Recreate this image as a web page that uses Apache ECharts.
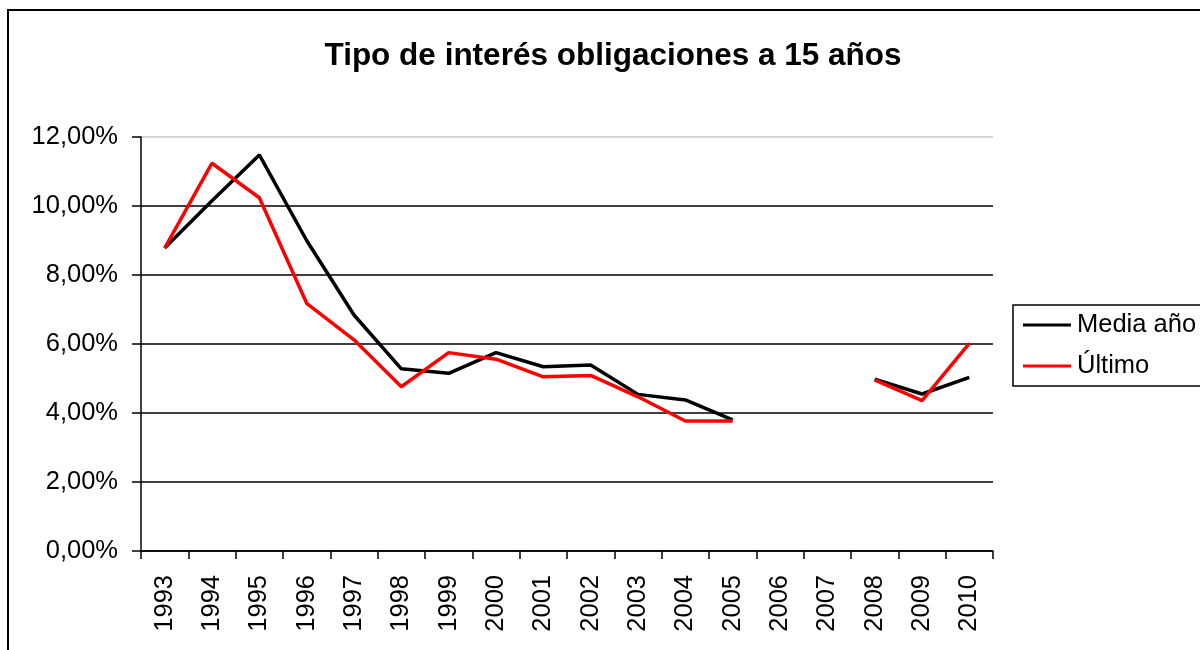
<!DOCTYPE html>
<html>
<head>
<meta charset="utf-8">
<script src="https://cdn.jsdelivr.net/npm/echarts@6/dist/echarts.min.js"></script>
<style>
    html, body { margin: 0; padding: 0; background: #fff; }
    #chart { width: 1200px; height: 650px; }
</style>
</head>
<body>
<div id="chart"></div>
<script>
// años
const years = ['1993', '1994', '1995', '1996', '1997', '1998', '1999', '2000', '2001',
    '2002', '2003', '2004', '2005', '2006', '2007', '2008', '2009', '2010']
// media anual (%)
const mediaAno = [8.78, 10.15, 11.48, 9.0, 6.84, 5.28, 5.15, 5.75, 5.34,
    5.39, 4.54, 4.38, 3.80, null, null, 4.98, 4.55, 5.03]
// último valor del año (%)
const ultimo = [8.78, 11.24, 10.24, 7.18, 6.12, 4.76, 5.75, 5.56, 5.05,
    5.09, 4.47, 3.77, 3.77, null, null, 4.96, 4.36, 6.02]

const font = 'Liberation Sans, Arial, sans-serif'
var myChart = echarts.init(document.getElementById('chart'))

let option = {
    backgroundColor: '#fff',
    animation: false,
    title: {
        text: 'Tipo de interés obligaciones a 15 años',
        left: 608,
        textAlign: 'center',
        top: 35,
        textStyle: { fontFamily: font, fontSize: 31.5, fontWeight: 'bold', color: '#000' }
    },
    graphic: [{
        type: 'rect',
        shape: { x: 8, y: 10, width: 1300, height: 700 },
        style: { fill: 'none', stroke: '#000', lineWidth: 2 },
        silent: true
    }],
    legend: {
        orient: 'vertical',
        left: 1013,
        top: 305,
        padding: [7, 30, 7, 10],
        itemGap: 15,
        itemWidth: 48,
        itemHeight: 3,
        borderColor: '#000',
        borderWidth: 1.5,
        textStyle: { fontFamily: font, fontSize: 25.5, lineHeight: 25, color: '#000', padding: [0, 0, 0, 1] },
        data: [
            { name: 'Media año', icon: 'rect' },
            { name: 'Último', icon: 'rect' }
        ]
    },
    grid: { left: 141, right: 207, top: 137, bottom: 99 },
    xAxis: {
        type: 'category',
        data: years,
        boundaryGap: true,
        axisLine: { lineStyle: { color: '#000', width: 1.5 } },
        axisTick: { show: true, length: 8, lineStyle: { color: '#000', width: 1.5 } },
        axisLabel: {
            rotate: 90,
            margin: 24,
            interval: 0,
            fontFamily: font,
            fontSize: 25.5,
            color: '#000'
        }
    },
    yAxis: {
        type: 'value',
        min: 0,
        max: 12,
        interval: 2,
        axisLine: { show: true, lineStyle: { color: '#000', width: 1.5 } },
        axisTick: { show: true, length: 9, lineStyle: { color: '#000', width: 1.5 } },
        axisLabel: {
            margin: 23,
            fontFamily: font,
            fontSize: 25.5,
            color: '#000',
            formatter: v => v.toFixed(2).replace('.', ',') + '%'
        },
        splitLine: {
            show: true,
            lineStyle: { color: ['#000', '#000', '#000', '#000', '#000', '#000', '#c8c8c8'], width: 1.5 }
        }
    },
    series: [
        {
            name: 'Media año',
            type: 'line',
            data: mediaAno,
            symbol: 'none',
            color: '#000',
            lineStyle: { color: '#000', width: 3.5 }
        },
        {
            name: 'Último',
            type: 'line',
            data: ultimo,
            symbol: 'none',
            color: '#ff0000',
            lineStyle: { color: '#ff0000', width: 3.5 }
        }
    ]
}
myChart.setOption(option)
</script>
</body>
</html>
